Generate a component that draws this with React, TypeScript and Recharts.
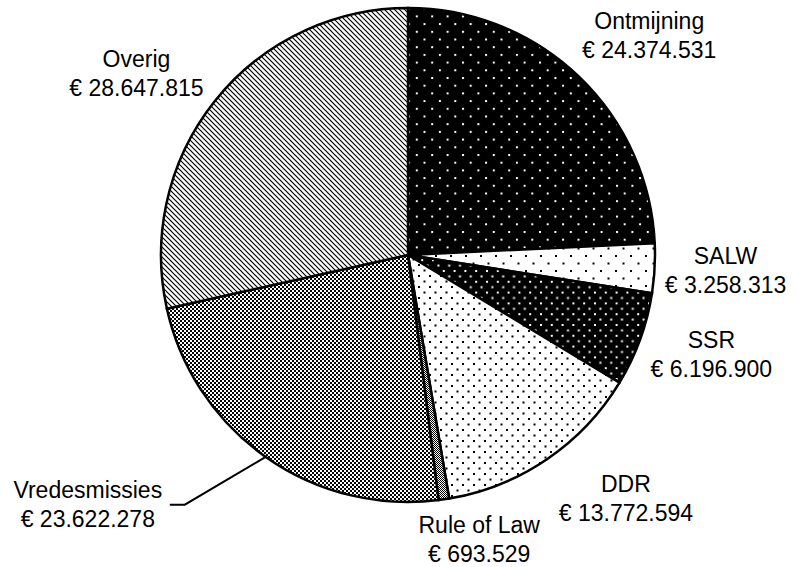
import React from "react";
import { PieChart, Pie, Cell } from "recharts";

// Budget per category (euro)
const categories = [
  "Ontmijning",
  "SALW",
  "SSR",
  "DDR",
  "Rule of Law",
  "Vredesmissies",
  "Overig",
];
const amounts = [24374531, 3258313, 6196900, 13772594, 693529, 23622278, 28647815];

const data = categories.map((name, i) => ({ name, value: amounts[i] }));

// fill pattern per slice, in the same order as categories
const patternIds = ["pOnt", "pSalw", "pSsr", "pDdr", "pRol", "pVred", "pOverig"];

// label placement tweaks (Excel puts them by hand-ish)
const labelNudge: Record<string, [number, number]> = {
  Ontmijning: [17, 9],
  SALW: [-7, -8],
  SSR: [-2, -18],
  DDR: [35, -32],
  "Rule of Law": [24, -44],
  Vredesmissies: [-133, -23],
  Overig: [-18, 15],
};

const RAD = Math.PI / 180;
const FONT = "'Liberation Sans', Arial, sans-serif";

const euro = (v: number) =>
  "€ " + String(Math.round(v)).replace(/\B(?=(\d{3})+(?!\d))/g, ".");

const renderLabel = (props: any) => {
  const { cx, cy, midAngle, outerRadius, name, value } = props;
  const r = outerRadius + 78;
  const x0 = cx + r * Math.cos(-midAngle * RAD);
  const y0 = cy + r * Math.sin(-midAngle * RAD);
  const [dx, dy] = labelNudge[name] || [0, 0];
  const x = x0 + dx;
  const y = y0 + dy;

  let leader = null;
  if (name === "Vredesmissies") {
    const ex = cx + outerRadius * Math.cos(-midAngle * RAD);
    const ey = cy + outerRadius * Math.sin(-midAngle * RAD);
    leader = (
      <polyline
        points={`${ex},${ey} ${x + 97},${y + 7} ${x + 82},${y + 7}`}
        fill="none"
        stroke="#000"
        strokeWidth={2}
      />
    );
  }

  return (
    <g>
      {leader}
      <text
        x={x}
        y={y}
        textAnchor="middle"
        fontFamily={FONT}
        fontSize={23}
        fill="#000"
      >
        <tspan x={x} y={y}>
          {name}
        </tspan>
        <tspan x={x} y={y + 29}>
          {euro(value)}
        </tspan>
      </text>
    </g>
  );
};

export default function App() {
  return (
    <div style={{ position: "absolute", left: 0, top: 0, background: "#fff" }}>
      <PieChart width={795} height={567} margin={{ top: 0, right: 0, bottom: 0, left: 0 }}>
        <defs>
          <pattern id="pOnt" width="15.4" height="15.4" patternUnits="userSpaceOnUse">
            <rect width="15.4" height="15.4" fill="#000" />
            <rect x="0" y="0" width="2" height="2" fill="#fff" />
            <rect x="7.7" y="7.7" width="2" height="2" fill="#fff" />
          </pattern>
          <pattern id="pSalw" width="15" height="15" patternUnits="userSpaceOnUse">
            <rect width="15" height="15" fill="#fff" />
            <rect x="0" y="0" width="2" height="2" fill="#000" />
            <rect x="7.5" y="7.5" width="2" height="2" fill="#000" />
          </pattern>
          <pattern id="pSsr" width="10.8" height="10.8" patternUnits="userSpaceOnUse">
            <rect width="10.8" height="10.8" fill="#000" />
            <rect x="0" y="0" width="2" height="2" fill="#fff" />
            <rect x="5.4" y="5.4" width="2" height="2" fill="#fff" />
          </pattern>
          <pattern id="pDdr" width="11" height="11" patternUnits="userSpaceOnUse">
            <rect width="11" height="11" fill="#fff" />
            <rect x="0" y="0" width="2" height="2" fill="#000" />
            <rect x="5.5" y="5.5" width="2" height="2" fill="#000" />
          </pattern>
          <pattern id="pRol" width="2" height="2" patternUnits="userSpaceOnUse">
            <rect width="2" height="2" fill="#fff" />
            <rect x="0" y="0" width="1" height="1" fill="#000" />
            <rect x="1" y="1" width="1" height="1" fill="#000" />
          </pattern>
          <pattern id="pVred" width="4" height="4" patternUnits="userSpaceOnUse">
            <rect width="4" height="4" fill="#fff" />
            <rect x="0" y="0" width="2" height="2" fill="#000" />
            <rect x="2" y="2" width="2" height="2" fill="#000" />
          </pattern>
          <pattern id="pOverig" width="5" height="5" patternUnits="userSpaceOnUse">
            <rect width="5" height="5" fill="#fff" />
            <path d="M0,0 L5,5 M-1,4 L1,6 M4,-1 L6,1" stroke="#000" strokeWidth={1.2} />
          </pattern>
        </defs>
        <Pie
          data={data}
          dataKey="value"
          nameKey="name"
          cx={408}
          cy={255}
          outerRadius={247}
          startAngle={90}
          endAngle={-270}
          stroke="#000"
          strokeWidth={2.5}
          label={renderLabel}
          labelLine={false}
          isAnimationActive={false}
        >
          {data.map((d, i) => (
            <Cell key={d.name} fill={`url(#${patternIds[i]})`} />
          ))}
        </Pie>
      </PieChart>
    </div>
  );
}
